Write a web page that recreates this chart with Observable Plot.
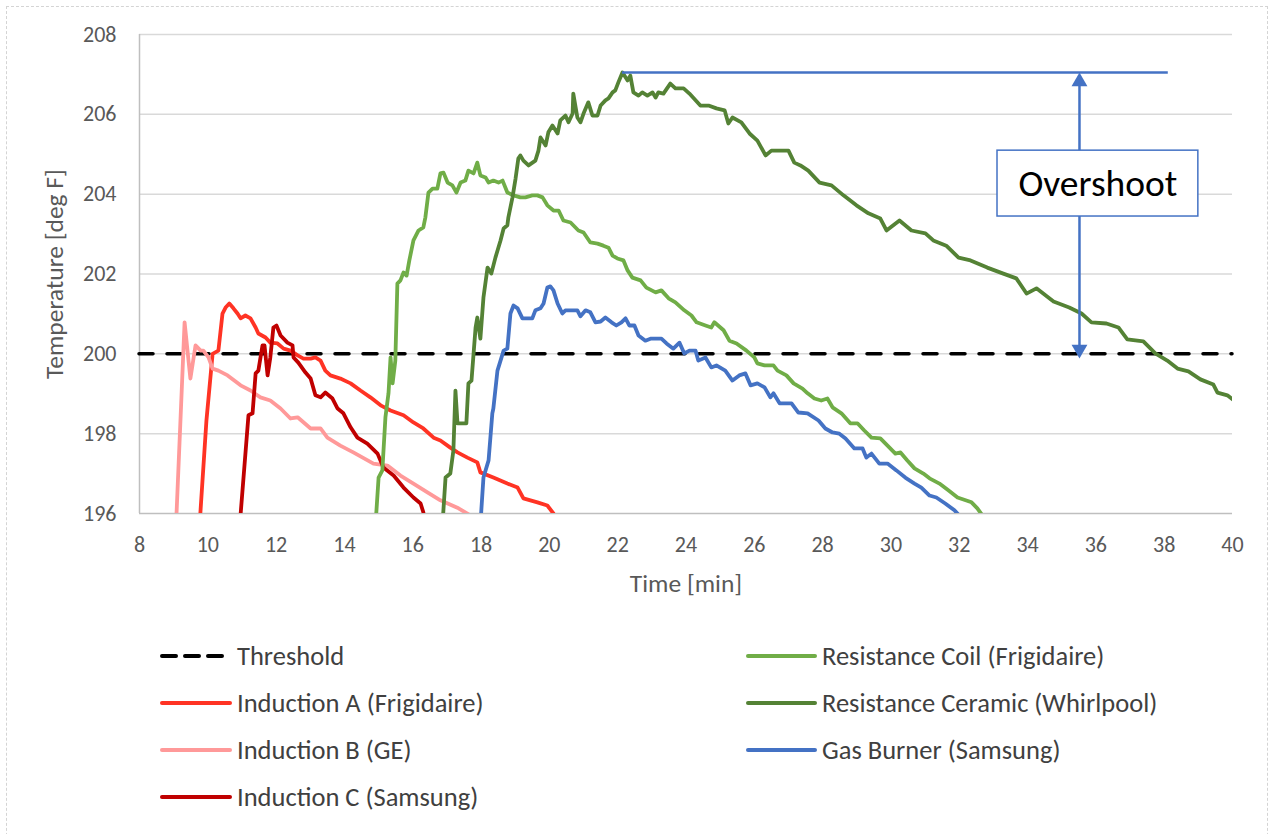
<!DOCTYPE html>
<html>
<head>
<meta charset="utf-8">
<script src="https://cdn.jsdelivr.net/npm/d3@7"></script>
<script src="https://cdn.jsdelivr.net/npm/@observablehq/plot@0.6"></script>
<style>
  html, body { margin: 0; padding: 0; background: #fff; }
  body { width: 1275px; height: 834px; position: relative; overflow: hidden; font-family: Calibri, Carlito, Lato, "Open Sans", sans-serif; }
  #border { position: absolute; left: 6px; top: 6px; width: 1262px; height: 860px; border: 1.5px dashed #d4d4d4; box-sizing: border-box; pointer-events: none; }
  #chart { position: absolute; left: 0; top: 0; }
  #legend { position: absolute; left: 0; top: 615px; width: 1275px; height: 219px; }
  .item { position: absolute; display: flex; align-items: center; height: 30px; font-size: 26.5px; color: #404040; white-space: nowrap; }
  .item svg { display: block; margin-right: 5px; }
  g[aria-label="x-axis label"] text, g[aria-label="y-axis label"] text { font-size: 25.5px; }
</style>
</head>
<body>
<div id="border"></div>
<div id="chart"></div>
<div id="legend"></div>
<script>
// ---------- data (time in minutes, temperature in deg F) ----------
const xTicks = [8, 10, 12, 14, 16, 18, 20, 22, 24, 26, 28, 30, 32, 34, 36, 38, 40];
const yTicks = [196, 198, 200, 202, 204, 206, 208];
const threshold = 200;

const inductionA = [[9.73,195.33],[9.96,198.33],[10.14,200.0],[10.31,200.08],[10.43,201.01],[10.52,201.16],[10.63,201.26],[10.75,201.14],[10.87,201.01],[10.96,200.89],[11.1,200.96],[11.25,200.89],[11.4,200.66],[11.48,200.51],[11.69,200.41],[11.83,200.28],[12.04,200.26],[12.22,200.13],[12.42,200.08],[12.63,199.96],[12.8,199.88],[13.01,199.88],[13.15,199.91],[13.3,199.83],[13.44,199.58],[13.59,199.46],[13.88,199.38],[14.18,199.26],[14.47,199.08],[14.76,198.91],[15.06,198.71],[15.35,198.58],[15.73,198.46],[16.02,198.28],[16.31,198.13],[16.61,197.9],[16.81,197.83],[17.1,197.65],[17.31,197.53],[17.6,197.4],[17.89,197.28],[17.98,197.03],[18.36,196.9],[18.77,196.75],[19.07,196.65],[19.24,196.38],[19.65,196.28],[19.94,196.2],[20.12,196.0],[20.27,195.7]];

const inductionB = [[9.05,195.3],[9.32,200.79],[9.49,199.38],[9.64,200.21],[9.79,200.08],[9.87,200.08],[10.02,199.91],[10.14,199.63],[10.31,199.58],[10.58,199.46],[10.96,199.21],[11.25,199.08],[11.54,198.91],[11.83,198.83],[12.13,198.63],[12.42,198.38],[12.63,198.41],[13.01,198.13],[13.3,198.13],[13.5,197.9],[13.88,197.7],[14.26,197.53],[14.85,197.25],[15.26,197.2],[15.64,196.95],[16.02,196.75],[16.43,196.53],[16.81,196.33],[17.34,196.13],[17.69,195.95],[17.98,195.83]];

const inductionC = [[10.9,195.33],[11.19,198.46],[11.31,198.51],[11.4,199.51],[11.48,199.58],[11.6,200.21],[11.66,200.21],[11.75,199.46],[11.83,199.91],[11.92,200.66],[12.01,200.71],[12.13,200.46],[12.33,200.28],[12.48,200.21],[12.51,199.91],[12.65,199.78],[12.86,199.53],[13.01,199.38],[13.15,198.96],[13.3,198.91],[13.44,199.03],[13.65,198.88],[13.8,198.63],[13.97,198.51],[14.18,198.16],[14.38,197.9],[14.67,197.75],[14.97,197.5],[15.14,197.15],[15.44,196.95],[15.73,196.65],[16.02,196.4],[16.23,196.25],[16.31,196.03],[16.37,195.7]];

const resistanceCoil = [[14.88,195.32],[15.0,196.9],[15.11,197.08],[15.2,198.41],[15.29,199.01],[15.35,199.91],[15.41,199.26],[15.49,199.83],[15.55,201.76],[15.64,201.84],[15.73,202.04],[15.82,201.96],[15.9,202.34],[16.02,202.84],[16.17,203.09],[16.31,203.17],[16.37,203.42],[16.46,204.04],[16.58,204.14],[16.72,204.14],[16.81,204.52],[16.9,204.54],[17.02,204.29],[17.16,204.22],[17.28,204.04],[17.4,204.29],[17.54,204.34],[17.63,204.59],[17.78,204.52],[17.89,204.79],[17.98,204.47],[18.13,204.42],[18.22,204.29],[18.36,204.34],[18.51,204.29],[18.63,204.34],[18.77,204.04],[18.95,203.97],[19.15,203.92],[19.3,203.92],[19.5,203.97],[19.65,203.97],[19.8,203.92],[19.94,203.72],[20.12,203.59],[20.27,203.59],[20.41,203.34],[20.62,203.29],[20.85,203.09],[21.0,203.04],[21.2,202.79],[21.41,202.76],[21.58,202.71],[21.73,202.66],[21.85,202.46],[21.99,202.39],[22.17,202.34],[22.29,202.09],[22.43,201.91],[22.67,201.84],[22.84,201.66],[23.11,201.54],[23.28,201.59],[23.49,201.39],[23.69,201.29],[23.95,201.09],[24.16,200.96],[24.31,200.79],[24.57,200.71],[24.74,200.66],[24.83,200.79],[25.1,200.59],[25.27,200.33],[25.48,200.26],[25.77,200.08],[26.0,199.91],[26.09,199.76],[26.3,199.71],[26.56,199.71],[26.68,199.58],[26.94,199.46],[27.15,199.26],[27.41,199.13],[27.56,199.01],[27.76,198.88],[27.96,198.83],[28.14,198.88],[28.29,198.66],[28.55,198.51],[28.81,198.26],[29.02,198.26],[29.22,198.08],[29.43,197.9],[29.69,197.88],[29.9,197.7],[30.13,197.5],[30.28,197.53],[30.48,197.33],[30.69,197.13],[30.95,197.0],[31.13,196.88],[31.42,196.75],[31.68,196.58],[31.95,196.4],[32.36,196.28],[32.53,196.13],[32.68,195.95],[32.79,195.7]];

const resistanceCeramic = [[16.84,195.32],[16.96,196.9],[17.1,197.0],[17.19,197.58],[17.25,199.08],[17.31,198.26],[17.4,198.26],[17.57,198.26],[17.63,199.26],[17.72,199.33],[17.84,200.66],[17.89,200.91],[17.98,200.38],[18.07,201.41],[18.19,202.16],[18.3,202.01],[18.42,202.41],[18.57,202.84],[18.66,203.14],[18.77,203.22],[18.8,203.42],[18.92,203.92],[19.01,204.39],[19.09,204.89],[19.15,204.97],[19.24,204.84],[19.39,204.72],[19.59,204.84],[19.68,205.09],[19.74,205.42],[19.89,205.22],[19.97,205.55],[20.09,205.72],[20.24,205.52],[20.32,205.85],[20.47,205.97],[20.56,205.8],[20.68,206.02],[20.7,206.52],[20.82,205.92],[20.91,205.8],[21.0,206.02],[21.14,206.3],[21.26,205.97],[21.41,205.97],[21.5,206.22],[21.64,206.35],[21.73,206.4],[21.85,206.55],[21.93,206.6],[22.02,206.8],[22.14,207.05],[22.29,206.85],[22.37,206.97],[22.46,206.55],[22.61,206.47],[22.72,206.55],[22.87,206.47],[23.02,206.55],[23.11,206.42],[23.19,206.55],[23.34,206.52],[23.54,206.77],[23.69,206.65],[23.93,206.65],[24.1,206.52],[24.42,206.22],[24.66,206.22],[24.89,206.15],[25.13,206.1],[25.24,205.77],[25.36,205.92],[25.62,205.8],[25.86,205.52],[26.09,205.34],[26.33,204.97],[26.5,205.09],[27.0,205.09],[27.17,204.79],[27.35,204.72],[27.58,204.59],[27.91,204.29],[28.26,204.22],[28.61,203.97],[28.99,203.72],[29.34,203.52],[29.69,203.39],[29.87,203.09],[30.25,203.34],[30.6,203.09],[31.01,203.02],[31.24,202.84],[31.62,202.71],[31.98,202.41],[32.33,202.34],[32.82,202.16],[33.29,202.01],[33.67,201.89],[33.97,201.51],[34.26,201.64],[34.76,201.31],[35.22,201.16],[35.58,201.01],[35.87,200.79],[36.31,200.76],[36.66,200.66],[36.92,200.36],[37.39,200.31],[37.74,200.01],[38.09,199.83],[38.39,199.63],[38.71,199.56],[39.06,199.36],[39.44,199.23],[39.56,199.03],[39.85,198.96],[40.0,198.86]];

const gasBurner = [[17.95,195.32],[18.07,196.9],[18.22,197.33],[18.33,198.51],[18.36,198.63],[18.48,199.58],[18.57,199.83],[18.66,200.08],[18.77,200.13],[18.86,201.01],[18.95,201.21],[19.07,201.14],[19.21,200.89],[19.36,200.89],[19.5,200.89],[19.59,201.09],[19.74,201.14],[19.83,201.26],[19.94,201.66],[20.03,201.69],[20.12,201.59],[20.24,201.26],[20.38,201.01],[20.47,201.09],[20.65,201.09],[20.82,201.09],[20.91,200.94],[21.06,201.09],[21.2,201.04],[21.35,200.79],[21.5,200.81],[21.64,200.91],[21.82,200.79],[21.96,200.71],[22.11,200.79],[22.23,200.89],[22.34,200.71],[22.49,200.71],[22.61,200.46],[22.81,200.33],[22.96,200.38],[23.11,200.38],[23.28,200.38],[23.43,200.26],[23.63,200.13],[23.81,200.28],[23.95,200.01],[24.1,200.08],[24.28,200.08],[24.36,199.83],[24.57,199.91],[24.74,199.66],[24.89,199.71],[25.15,199.58],[25.36,199.33],[25.56,199.46],[25.74,199.51],[25.89,199.21],[26.09,199.26],[26.3,199.16],[26.47,198.91],[26.56,199.01],[26.74,198.76],[27.09,198.76],[27.29,198.53],[27.56,198.51],[27.88,198.33],[28.08,198.13],[28.29,198.03],[28.49,198.0],[28.67,197.88],[28.93,197.63],[29.17,197.63],[29.28,197.4],[29.43,197.5],[29.66,197.25],[29.9,197.25],[30.16,197.08],[30.42,196.9],[30.69,196.75],[30.89,196.65],[31.13,196.45],[31.33,196.4],[31.59,196.25],[31.86,196.08],[32.0,195.95],[32.12,195.7]];

// overshoot annotation
const overshoot = { x: 35.52, lineEnd: 38.12, bottom: 199.88, boxX: [33.12, 39.0], boxY: [203.44, 205.09], label: "Overshoot" };

const series = [
  { name: "Induction A (Frigidaire)", color: "#FF3324", data: inductionA },
  { name: "Induction B (GE)", color: "#FF9999", data: inductionB },
  { name: "Induction C (Samsung)", color: "#C00000", data: inductionC },
  { name: "Resistance Coil (Frigidaire)", color: "#70AD47", data: resistanceCoil },
  { name: "Resistance Ceramic (Whirlpool)", color: "#548235", data: resistanceCeramic },
  { name: "Gas Burner (Samsung)", color: "#4472C4", data: gasBurner }
];

// ---------- chart ----------
const FONT = "Calibri, Carlito, Lato, 'Open Sans', sans-serif";
const peak = d3.greatest(resistanceCeramic, d => d[1]);
const blue = "#4472C4";

const lineMarks = series.map(s => Plot.line(s.data.map(([t, T]) => ({ t, T })), {
  x: "t", y: "T", stroke: s.color, strokeWidth: 3.8, strokeLinejoin: "round", strokeLinecap: "round", clip: true
}));

const chart = Plot.plot({
  width: 1275,
  height: 615,
  marginLeft: 139,
  marginRight: 43,
  marginTop: 34,
  marginBottom: 102,
  style: { fontFamily: FONT, fontSize: "22px", color: "#595959", background: "transparent", overflow: "visible" },
  x: { domain: [8, 40] },
  y: { domain: [196, 208] },
  marks: [
    Plot.gridY(yTicks.filter(v => v !== 196), { stroke: "#d9d9d9", strokeOpacity: 1, strokeWidth: 1.5 }),
    Plot.ruleY([196], { stroke: "#bfbfbf", strokeWidth: 1.5 }),
    Plot.ruleX([8], { y1: 196, y2: 208, stroke: "#bfbfbf", strokeWidth: 1.5 }),
    Plot.axisX({ ticks: xTicks, tickSize: 0, tickPadding: 23, tickFormat: d => String(d), label: "Time [min]", labelAnchor: "center", labelArrow: "none", labelOffset: 78 }),
    Plot.axisY({ ticks: yTicks, tickSize: 0, tickPadding: 23, tickFormat: d => String(d), label: "Temperature [deg F]", labelAnchor: "center", labelArrow: "none", labelOffset: 95 }),
    Plot.ruleY([threshold], { stroke: "#000", strokeWidth: 3.5, strokeDasharray: "14,14", strokeLinecap: "round" }),
    ...lineMarks,
    // overshoot annotation
    Plot.ruleY([peak[1]], { x1: peak[0], x2: overshoot.lineEnd, stroke: blue, strokeWidth: 2.5 }),
    Plot.ruleX([overshoot.x], { y1: overshoot.bottom + 0.2, y2: peak[1] - 0.2, stroke: blue, strokeWidth: 2.5 }),
    Plot.dot([[overshoot.x, peak[1]]], { x: d => d[0], y: d => d[1], symbol: "triangle", r: 5.9, fill: blue, stroke: "none", dy: 9.2 }),
    Plot.dot([[overshoot.x, overshoot.bottom]], { x: d => d[0], y: d => d[1], symbol: "triangle", r: 5.9, fill: blue, stroke: "none", rotate: 180, dy: -9.2 }),
    Plot.rect([overshoot], { x1: d => d.boxX[0], x2: d => d.boxX[1], y1: d => d.boxY[0], y2: d => d.boxY[1], fill: "white", stroke: blue, strokeWidth: 1.5 }),
    Plot.text([overshoot], { x: d => (d.boxX[0] + d.boxX[1]) / 2, y: d => (d.boxY[0] + d.boxY[1]) / 2, text: "label", fontSize: 37.5, fill: "#000", fontFamily: FONT })
  ]
});
document.getElementById("chart").appendChild(chart);

// ---------- legend ----------
const legendItems = [
  { name: "Threshold", color: "#000", dashed: true },
  ...series
];
const legend = document.getElementById("legend");
const leftCol = [legendItems[0], legendItems[1], legendItems[2], legendItems[3]];
const rightCol = [legendItems[4], legendItems[5], legendItems[6]];
function addItem(item, left, row, swW) {
  const div = document.createElement("div");
  div.className = "item";
  div.style.left = left + "px";
  div.style.top = (41 + row * 47 - 15) + "px";
  const dash = item.dashed ? 'stroke-dasharray="14,9"' : '';
  div.innerHTML = `<svg width="${swW}" height="8"><line x1="2" y1="4" x2="${swW - 2}" y2="4" stroke="${item.color}" stroke-width="4" stroke-linecap="round" ${dash}/></svg><span>${item.name}</span>`;
  legend.appendChild(div);
}
leftCol.forEach((it, i) => addItem(it, 160, i, 72));
rightCol.forEach((it, i) => addItem(it, 746, i, 71));
</script>
</body>
</html>
